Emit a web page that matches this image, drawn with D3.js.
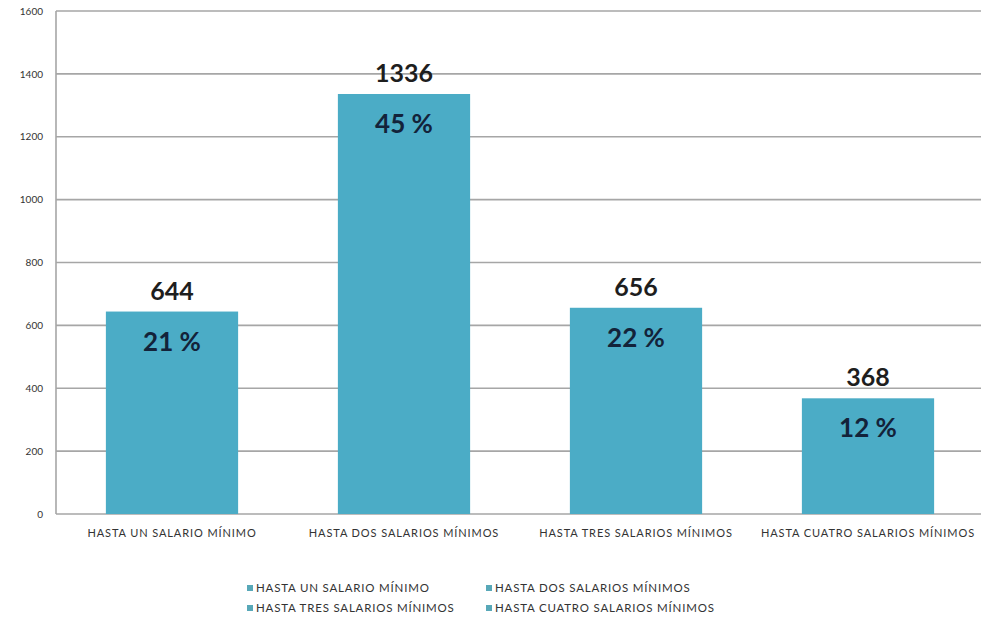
<!DOCTYPE html>
<html>
<head>
<meta charset="utf-8">
<script src="https://cdn.jsdelivr.net/npm/d3@7"></script>
<style>
  body { margin: 0; background: #fff; }
  svg { display: block; }
</style>
</head>
<body>
<svg id="chart" width="981" height="629"></svg>
<script>
// data
const categories = ['HASTA UN SALARIO MÍNIMO', 'HASTA DOS SALARIOS MÍNIMOS', 'HASTA TRES SALARIOS MÍNIMOS', 'HASTA CUATRO SALARIOS MÍNIMOS']
const values = [644, 1336, 656, 368]
const percents = [21, 45, 22, 12]
const yTicks = [0, 200, 400, 600, 800, 1000, 1200, 1400, 1600]

const svg = d3.select('#chart')
const barColor = '#4bacc6'
const gridColor = '#a6a6a6'
const font = 'Lato, "Open Sans", sans-serif'

const x = d3.scaleBand()
  .domain(categories)
  .range([56, 984])
  .paddingInner(0.43)
  .paddingOuter(0.215)

const y = d3.scaleLinear()
  .domain([0, 1600])
  .range([514, 11])

// gridlines
svg.append('g').selectAll('line')
  .data(yTicks)
  .enter()
  .append('line')
  .attr('x1', 56)
  .attr('x2', 981)
  .attr('y1', d => y(d))
  .attr('y2', d => y(d))
  .attr('stroke', gridColor)
  .attr('stroke-width', 1.6)

// left axis line
svg.append('line')
  .attr('x1', 56).attr('x2', 56)
  .attr('y1', y(1600)).attr('y2', y(0))
  .attr('stroke', gridColor)
  .attr('stroke-width', 1.6)

// y tick labels
const yAxis = svg.append('g')
  .attr('transform', 'translate(43,0)')
  .call(d3.axisLeft(y).tickValues(yTicks).tickFormat(d3.format('d')).tickSize(0).tickPadding(0))
yAxis.select('.domain').remove()
yAxis.selectAll('text')
  .style('font-family', font)
  .style('font-size', '10px')
  .attr('fill', '#333')

// bars
const rows = categories.map((c, i) => ({cat: c, val: values[i], pct: percents[i]}))

svg.append('g').selectAll('rect')
  .data(rows)
  .enter()
  .append('rect')
  .attr('x', d => x(d.cat))
  .attr('width', x.bandwidth())
  .attr('y', d => y(d.val))
  .attr('height', d => y(0) - y(d.val))
  .attr('fill', barColor)

// value labels above bars
svg.append('g').selectAll('text')
  .data(rows)
  .enter()
  .append('text')
  .attr('x', d => x(d.cat) + x.bandwidth() / 2)
  .attr('y', d => y(d.val) - 12)
  .attr('text-anchor', 'middle')
  .style('font-family', font)
  .style('font-weight', 'bold')
  .style('font-size', '25px')
  .attr('fill', '#1e1e1e')
  .text(d => d.val)

// percent labels inside bars
svg.append('g').selectAll('text')
  .data(rows)
  .enter()
  .append('text')
  .attr('x', d => x(d.cat) + x.bandwidth() / 2)
  .attr('y', d => y(d.val) + 39)
  .attr('text-anchor', 'middle')
  .style('font-family', font)
  .style('font-weight', 'bold')
  .style('font-size', '26px')
  .attr('fill', '#13233a')
  .text(d => d.pct + ' %')

// category labels
const xAxis = svg.append('g')
  .attr('transform', `translate(0,${y(0)})`)
  .call(d3.axisBottom(x).tickSize(0).tickPadding(15))
xAxis.select('.domain').remove()
xAxis.selectAll('text')
  .style('font-family', font)
  .style('font-size', '11px')
  .style('letter-spacing', '0.9px')
  .attr('fill', '#333')

// legend, two columns
const legendPos = [[247, 588], [486, 588], [247, 608], [486, 608]]
const legend = svg.append('g').selectAll('g')
  .data(categories)
  .enter()
  .append('g')
  .attr('transform', (d, i) => `translate(${legendPos[i][0]},${legendPos[i][1]})`)

legend.append('rect')
  .attr('x', 0).attr('y', -3)
  .attr('width', 6).attr('height', 6)
  .attr('fill', '#58a8b8')

legend.append('text')
  .attr('x', 9)
  .attr('y', 4)
  .style('font-family', font)
  .style('font-size', '11.5px')
  .style('letter-spacing', '0.8px')
  .attr('fill', '#333')
  .text(d => d)
</script>
</body>
</html>
